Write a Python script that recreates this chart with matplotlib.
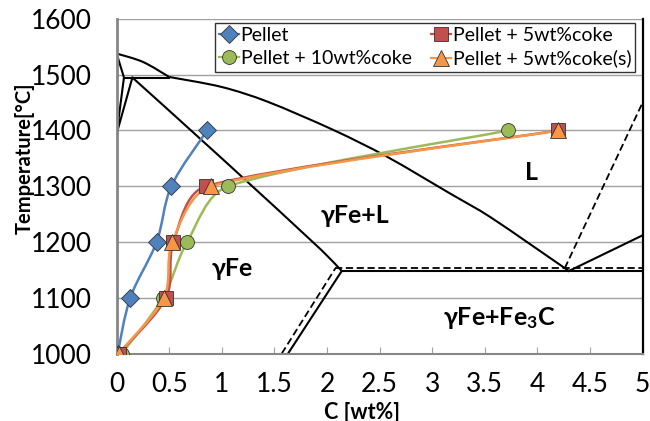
import matplotlib
matplotlib.use("Agg")
import matplotlib.pyplot as plt
import numpy as np
from matplotlib.path import Path
from matplotlib.patches import PathPatch

plt.rcParams['font.family'] = ['Lato', 'DejaVu Sans']
plt.rcParams['mathtext.fontset'] = 'custom'
plt.rcParams['mathtext.bf'] = 'Lato:bold'
plt.rcParams['mathtext.rm'] = 'Lato'
plt.rcParams['mathtext.default'] = 'bf'

# measured series
temp = [1000, 1100, 1200, 1300, 1400]
c_pellet = [0.01, 0.13, 0.38, 0.52, 0.86]
c_10coke = [0.05, 0.44, 0.67, 1.06, 3.72]
c_5coke = [0.02, 0.47, 0.54, 0.85, 4.20]
c_5coke_s = [0.02, 0.45, 0.53, 0.90, 4.20]

# Fe-C phase diagram lines
liq1_c = [0, 0.25, 0.5]
liq1_t = [1538, 1523, 1496]
liq2_c = [0.5, 1.0, 1.43, 2.06, 2.57, 3.17, 3.55, 4.3]
liq2_t = [1496, 1478, 1452, 1401, 1353, 1287, 1245, 1148]
delta_c = [0, 0.07, 0, 0.15]
delta_t = [1538, 1495, 1394, 1495]
perit_c = [0.07, 0.5]
perit_t = [1495, 1495]
sol_c = [0.15, 1.0, 1.95, 2.14]
sol_t = [1495, 1350, 1185, 1148]
ecm_c = [1.63, 2.14]
ecm_t = [1000, 1148]
eut_c = [2.14, 5.0]
eut_t = [1148, 1148]
cem_c = [4.3, 5.0]
cem_t = [1148, 1212]
# stable (graphite) lines, dashed
ecm_s_c = [1.57, 2.08]
ecm_s_t = [1000, 1153]
eut_s_c = [2.08, 5.0]
eut_s_t = [1153, 1153]
gr_c = [4.26, 5.0]
gr_t = [1153, 1450]

# rough pixel scale of the plot area, used only to shape the smoothing
PX_X = 105.2
PX_Y = 0.557


def smooth_path(xs, ys):
    pts = np.column_stack([np.asarray(xs) * PX_X, np.asarray(ys) * PX_Y]).astype(float)
    n = len(pts)
    verts = [pts[0]]
    codes = [Path.MOVETO]

    def clamp(v, lim):
        L = np.hypot(*v)
        return v if L <= lim or L == 0 else v * lim / L

    for i in range(n - 1):
        p0 = pts[i - 1] if i > 0 else pts[i]
        p1, p2 = pts[i], pts[i + 1]
        p3 = pts[i + 2] if i + 2 < n else pts[i + 1]
        seg = np.hypot(*(p2 - p1))
        d1 = clamp((p2 - p0) / 6, seg / 3)
        d2 = clamp((p3 - p1) / 6, seg / 3)
        verts += [p1 + d1, p2 - d2, p2]
        codes += [Path.CURVE4] * 3
    verts = np.array(verts) / [PX_X, PX_Y]
    return Path(verts, codes)


fig = plt.figure(figsize=(6.5, 4.21), dpi=100)
ax = fig.add_axes([0.1794, 0.1603, 0.8092, 0.7946])

for c, t in [(liq1_c, liq1_t), (liq2_c, liq2_t), (sol_c, sol_t)]:
    ax.add_patch(PathPatch(smooth_path(c, t), facecolor='none', edgecolor='black',
                           lw=1.5, zorder=2))
for c, t in [(delta_c, delta_t), (perit_c, perit_t), (ecm_c, ecm_t), (eut_c, eut_t),
             (cem_c, cem_t)]:
    ax.plot(c, t, color='black', lw=1.5, zorder=2)
for c, t in [(ecm_s_c, ecm_s_t), (eut_s_c, eut_s_t), (gr_c, gr_t)]:
    ax.plot(c, t, color='black', lw=1.3, ls=(0, (4, 2)), zorder=2)

series = [
    (c_pellet, '#4F81BD', 'D', 9, 'Pellet'),
    (c_10coke, '#9BBB59', 'o', 10, 'Pellet + 10wt%coke'),
    (c_5coke, '#C0504D', 's', 10, 'Pellet + 5wt%coke'),
    (c_5coke_s, '#F79646', '^', 11, 'Pellet + 5wt%coke(s)'),
]
for c, col, mk, ms, lab in series:
    ax.add_patch(PathPatch(smooth_path(c, temp), facecolor='none', edgecolor=col,
                           lw=1.8, zorder=3))
    ax.plot(c, temp, ls='none', marker=mk, ms=ms, mfc=col, mec='#333333', mew=0.6,
            zorder=4)
    ax.plot([], [], color=col, lw=1.6, marker=mk, ms=ms, mfc=col, mec='#333333',
            mew=0.6, label=lab)

ax.set_xlim(0, 5)
ax.set_ylim(1000, 1600)
ax.set_xticks(np.arange(0, 5.01, 0.5))
ax.set_xticklabels(['0', '0.5', '1', '1.5', '2', '2.5', '3', '3.5', '4', '4.5', '5'])
ax.set_yticks(range(1000, 1601, 100))
ax.yaxis.grid(True, color='#A0A0A0', lw=1)
ax.set_axisbelow(True)
ax.tick_params(axis='x', direction='in', length=5, color='#A0A0A0', labelsize=19, pad=13)
ax.tick_params(axis='y', length=0, labelsize=19, pad=18)
ax.spines['left'].set_color('#868686')
ax.spines['left'].set_linewidth(2)
ax.spines['bottom'].set_color('#868686')
ax.spines['bottom'].set_linewidth(1.5)
ax.spines['top'].set_visible(False)
ax.spines['right'].set_color('black')
ax.spines['right'].set_linewidth(1.6)

ax.set_xlabel('C [wt%]', fontsize=15.5, fontweight='bold')
ax.xaxis.set_label_coords(0.4666, -0.145, transform=ax.transAxes)
ax.xaxis.label.set_va('top')
ax.set_ylabel('Temperature[°C]', fontsize=14.5, fontweight='bold')
ax.yaxis.set_label_coords(-0.156, 0.584)

ax.text(1.1, 1153, 'γFe', fontsize=18, fontweight='bold', ha='center', va='center')
ax.text(2.27, 1248, 'γFe+L', fontsize=18, fontweight='bold', ha='center', va='center')
ax.text(3.94, 1325, 'L', fontsize=18, fontweight='bold', ha='center', va='center')
ax.text(3.64, 1063, 'γFe+Fe$_3$C', fontsize=18, fontweight='bold', ha='center', va='center')

leg = ax.legend(ncol=2, loc='upper right', bbox_to_anchor=(0.9856, 0.988), borderaxespad=0,
                fontsize=14, frameon=True, fancybox=False, handlelength=1.0,
                handletextpad=0.1, columnspacing=1.0, labelspacing=0.3,
                borderpad=0.2)
leg.get_frame().set_edgecolor('black')
leg.get_frame().set_linewidth(1)

fig.savefig('out.png', dpi=100)
